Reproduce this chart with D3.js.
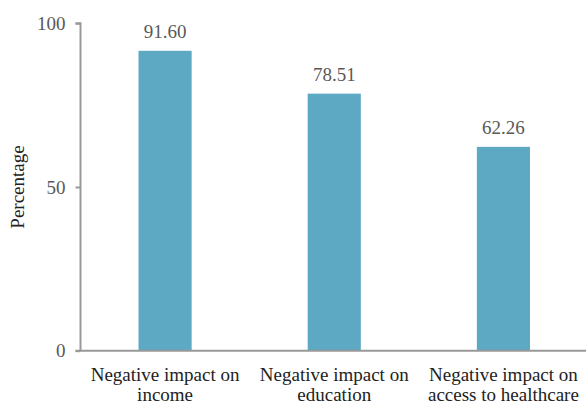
<!DOCTYPE html>
<html>
<head>
<meta charset="utf-8">
<script src="https://cdn.jsdelivr.net/npm/d3@7"></script>
<style>
  html, body { margin: 0; padding: 0; background: #fff; }
</style>
</head>
<body>
<svg id="chart" width="586" height="404"></svg>
<script>
// Share of respondents reporting each negative impact
const categories = [
  ["Negative impact on", "income"],
  ["Negative impact on", "education"],
  ["Negative impact on", "access to healthcare"]
];
const values = [91.60, 78.51, 62.26];
const yTicks = [0, 50, 100];
const yTitle = "Percentage";

const FONT = "'Liberation Serif', 'Times New Roman', Times, serif";
const svg = d3.select("#chart").attr("font-family", FONT);
const margin = { left: 80.5, right: -2, top: 23.3, bottom: 53.3 };
const W = 586, H = 404;

const x = d3.scaleBand()
  .domain(d3.range(categories.length))
  .range([margin.left, W - margin.right])
  .paddingInner(0.686)
  .paddingOuter(0.343);

const y = d3.scaleLinear()
  .domain([0, 100])
  .range([H - margin.bottom, margin.top]);

const axisColor = "#999999";
const textColor = "#595959";

// Bars
svg.append("g").selectAll("rect")
  .data(values)
  .join("rect")
  .attr("x", (d, i) => x(i))
  .attr("width", x.bandwidth())
  .attr("y", d => y(d))
  .attr("height", d => y(0) - y(d))
  .attr("fill", "#5da8c2");

// Value labels
svg.append("g").selectAll("text")
  .data(values)
  .join("text")
  .attr("font-family", FONT)
  .attr("x", (d, i) => x(i) + x.bandwidth() / 2)
  .attr("y", d => y(d) - 13)
  .attr("text-anchor", "middle")
  .attr("font-size", 19)
  .attr("fill", textColor)
  .text(d => d.toFixed(2));

// Y axis
const yAxis = svg.append("g")
  .attr("transform", `translate(${margin.left},0)`)
  .call(d3.axisLeft(y).tickValues(yTicks).tickSize(5).tickPadding(10));
yAxis.attr("font-family", FONT);
yAxis.select(".domain").attr("stroke", axisColor).attr("stroke-width", 2)
  .attr("d", `M-5,${y(100)}H0V${y(0)}`);
yAxis.selectAll(".tick line").attr("stroke", axisColor).attr("stroke-width", 2);
yAxis.selectAll(".tick text")
  .attr("font-size", 19)
  .attr("fill", textColor)
  .attr("font-family", FONT);

// X axis baseline
svg.append("line")
  .attr("x1", margin.left - 5)
  .attr("x2", W)
  .attr("y1", y(0))
  .attr("y2", y(0))
  .attr("stroke", axisColor)
  .attr("stroke-width", 2);

// Category labels (two lines each)
const labels = svg.append("g").selectAll("text")
  .data(categories)
  .join("text")
  .attr("font-family", FONT)
  .attr("text-anchor", "middle")
  .attr("font-size", 19)
  .attr("fill", "#222");
labels.selectAll("tspan")
  .data((d, i) => d.map(line => ({ line, i })))
  .join("tspan")
  .attr("x", d => x(d.i) + x.bandwidth() / 2)
  .attr("y", (d, j) => y(0) + 30.5 + j * 20)
  .text(d => d.line);

// Y axis title
svg.append("text")
  .attr("font-family", FONT)
  .attr("transform", `translate(24,${(y(0) + y(100)) / 2}) rotate(-90)`)
  .attr("text-anchor", "middle")
  .attr("font-size", 19)
  .attr("fill", "#222")
  .text(yTitle);
</script>
</body>
</html>
